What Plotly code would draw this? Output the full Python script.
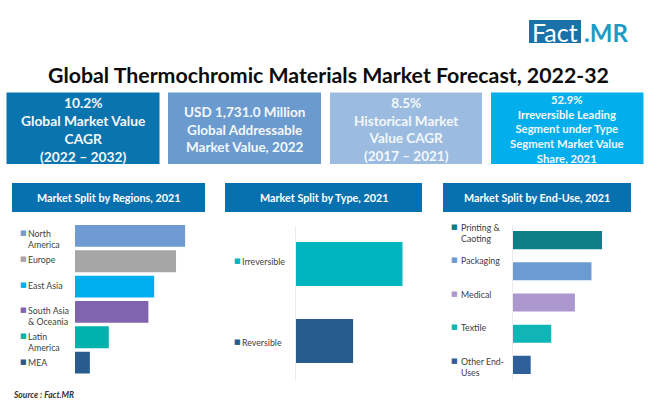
import plotly.graph_objects as go

W, H = 650, 406

# data
regions = ["North<br>America", "Europe", "East Asia", "South Asia<br>& Oceania", "Latin<br>America", "MEA"]
region_share = [26.7, 24.5, 19.2, 17.8, 8.2, 3.6]
region_colors = ["#6f9bd2", "#a6a6a6", "#00aeef", "#8064ae", "#00b2ac", "#2a5b8e"]

types = ["Irreversible", "Reversible"]
type_share = [65, 35]
type_colors = ["#00b5bd", "#275d8e"]

end_uses = ["Printing &<br>Caoting", "Packaging", "Medical", "Textile", "Other End-<br>Uses"]
end_use_share = [31.2, 27.5, 21.7, 13.4, 6.2]
end_use_colors = ["#0e7f86", "#6b9bd1", "#ad97cf", "#12b5b5", "#2f5f98"]

kpi_texts = [
    "10.2%<br>Global Market Value<br>CAGR<br>(2022 – 2032)",
    "USD 1,731.0 Million<br>Global Addressable<br>Market Value, 2022",
    "8.5%<br>Historical Market<br>Value CAGR<br>(2017 – 2021)",
    "52.9%<br>Irreversible Leading<br>Segment under Type<br>Segment Market Value<br>Share, 2021",
]
kpi_colors = ["#0a74ae", "#6a9ace", "#9bbce0", "#02aeec"]
kpi_font_sizes = [13.8, 13.5, 13.5, 11.3]
kpi_boxes = [(6.5, 159.5), (168, 321), (330, 482), (491, 643.5)]

FONT = "Lato"


def px_x(x):
    return x / W


def px_y(y):
    return 1 - y / H


def box(x0, x1, y0, y1, color):
    return dict(type="rect", xref="paper", yref="paper", layer="below", line_width=0,
                x0=px_x(x0), x1=px_x(x1), y0=px_y(y1), y1=px_y(y0), fillcolor=color)


def label(x, y, text, size, color="white", bold=True, anchor="center", italic=False):
    if bold:
        text = f"<b>{text}</b>"
    if italic:
        text = f"<i>{text}</i>"
    return dict(xref="paper", yref="paper", x=px_x(x), y=px_y(y), text=text, showarrow=False,
                xanchor=anchor, yanchor="middle", align=anchor if anchor != "center" else "center",
                font=dict(family=FONT, size=size, color=color))


# panels: header box, plot area, row labels
panels = [
    dict(title="Market Split by Regions, 2021", head=(12, 205), cats=regions, vals=region_share,
         colors=region_colors, dom_x=(75, 195), dom_y=(223.25, 375.25), xmax=29.1, gap=0.14,
         mark_x=23, text_x=26, offsets=[-3, -2, -1.5, -1.5, -1.5, -0.5], axis_color="rgba(0,0,0,0)"),
    dict(title="Market Split by Type, 2021", head=(225, 422), cats=types, vals=type_share,
         colors=type_colors, dom_x=(295.5, 415.5), dom_y=(225.5, 379.5), xmax=72.9, gap=0.43,
         mark_x=237, text_x=239.5, offsets=[-3, 0.5], axis_color="#ececec"),
    dict(title="Market Split by End-Use, 2021", head=(443, 631), cats=end_uses, vals=end_use_share,
         colors=end_use_colors, dom_x=(513, 628), dom_y=(224.5, 380.5), xmax=40.3, gap=0.42,
         mark_x=455, text_x=459, offsets=[-13, -11, -9, -7, -4], axis_color="#ececec"),
]

fig = go.Figure()
shapes = []
annotations = []

# logo and title
shapes.append(box(529, 581, 20, 43, "#1a72a9"))
annotations.append(label(555, 32, "Fact", 25, bold=False))
annotations.append(label(606, 32, ".MR", 24, color="#1b9cc6"))
annotations.append(label(328.5, 75, "Global Thermochromic Materials Market Forecast, 2022-32", 21.3, color="#0c0c0c"))

# KPI boxes
for (x0, x1), txt, col, size in zip(kpi_boxes, kpi_texts, kpi_colors, kpi_font_sizes):
    shapes.append(box(x0, x1, 92.5, 164, col))
    annotations.append(label((x0 + x1) / 2, 129, txt, size, color="#f4f8fb"))

# bar panels
for i, p in enumerate(panels, start=1):
    shapes.append(box(p["head"][0], p["head"][1], 183, 212, "#0771b0"))
    annotations.append(label(sum(p["head"]) / 2, 197.5, p["title"], 10.8))

    xname = "x" if i == 1 else f"x{i}"
    yname = "y" if i == 1 else f"y{i}"
    fig.add_trace(go.Bar(
        y=p["cats"], x=p["vals"], orientation="h", width=1 - p["gap"],
        marker=dict(color=p["colors"], line_width=0),
        xaxis=xname, yaxis=yname, showlegend=False,
    ))
    xkey = "xaxis" if i == 1 else f"xaxis{i}"
    ykey = "yaxis" if i == 1 else f"yaxis{i}"
    fig.update_layout({
        xkey: dict(domain=[px_x(p["dom_x"][0]), px_x(p["dom_x"][1])], range=[0, p["xmax"]],
                   visible=False, anchor=yname),
        ykey: dict(domain=[px_y(p["dom_y"][1]), px_y(p["dom_y"][0])],
                   range=[len(p["cats"]) - 0.5, -0.5],
                   anchor=xname, showticklabels=False, ticks="", showgrid=False,
                   showline=True, linecolor=p["axis_color"], linewidth=1, zeroline=False),
    })

    # row labels sit left of the axis, tied to the category position
    for cat, col, off in zip(p["cats"], p["colors"], p["offsets"]):
        annotations.append(dict(xref="paper", yref=yname, x=px_x(p["mark_x"]), y=cat, text="■",
                                showarrow=False, xanchor="center", yanchor="middle", yshift=-off,
                                font=dict(family="DejaVu Sans", size=7, color=col)))
        annotations.append(dict(xref="paper", yref=yname, x=px_x(p["text_x"]), y=cat, text=cat,
                                showarrow=False, xanchor="left", yanchor="top", align="left", yshift=-off + 7,
                                font=dict(family=FONT, size=8.8, color="#404040")))

annotations.append(label(11, 395, "Source : Fact.MR", 8.5, color="#333333", anchor="left", italic=True))

fig.update_layout(
    width=W, height=H,
    margin=dict(l=0, r=0, t=0, b=0),
    paper_bgcolor="white", plot_bgcolor="white",
    shapes=shapes, annotations=annotations,
    font=dict(family=FONT),
)

fig.write_html("out.html", config={"displayModeBar": False},
               post_script="document.body.style.margin='0';")
